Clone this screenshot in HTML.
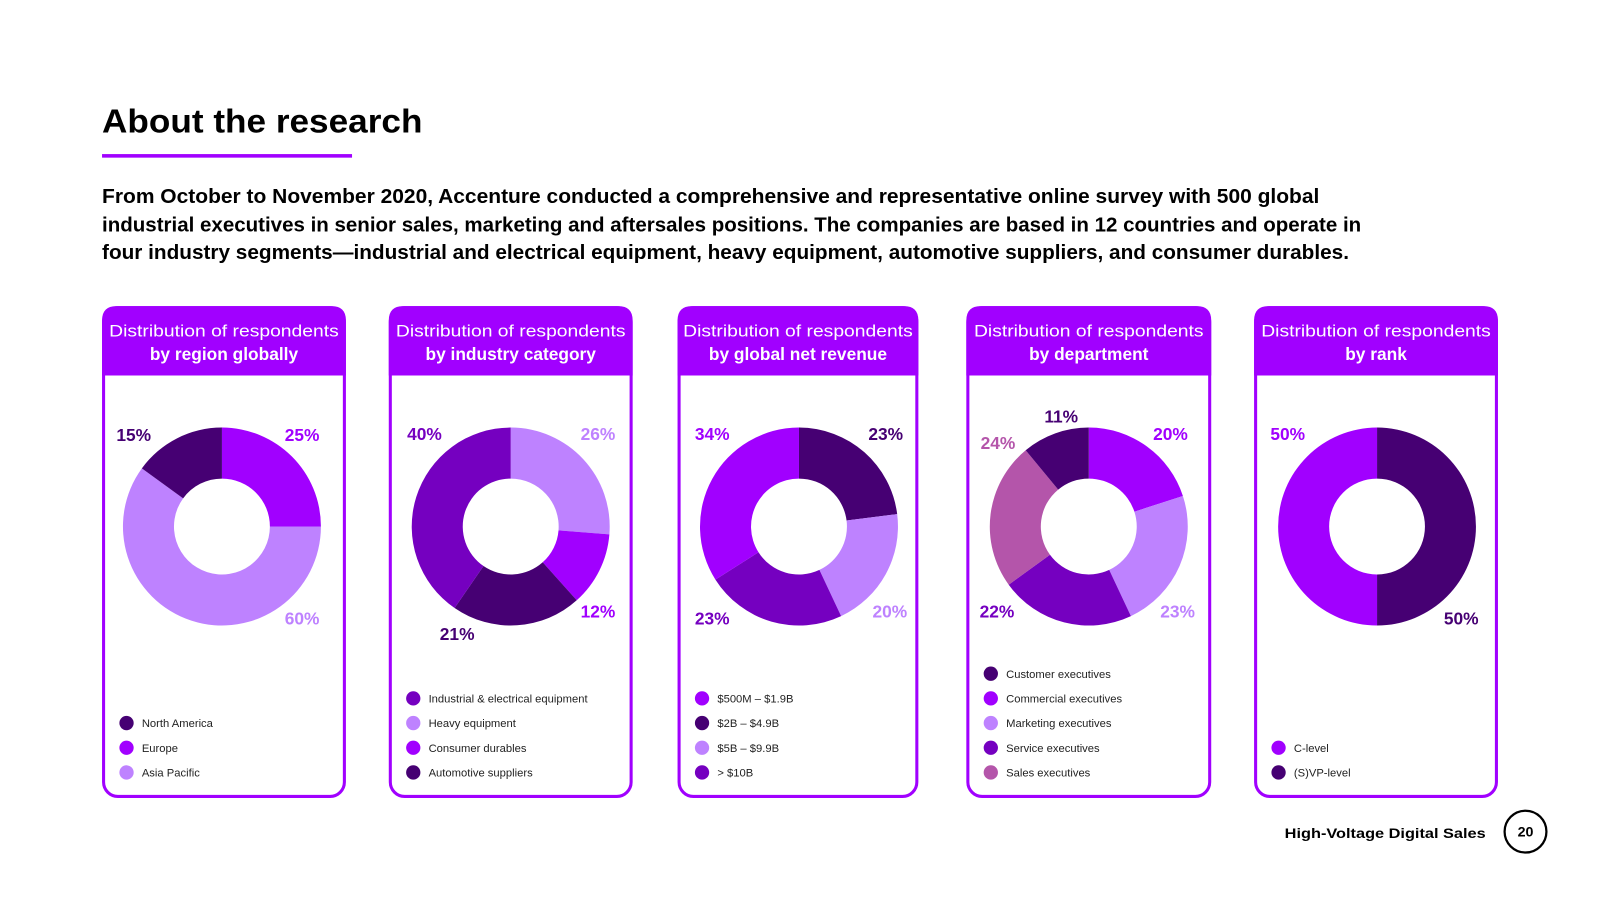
<!DOCTYPE html>
<html><head><meta charset="utf-8"><style>
html,body{margin:0;padding:0;background:#fff;}
svg{display:block;font-family:"Liberation Sans",sans-serif;}
</style></head><body>
<svg id="s" width="1600" height="900" viewBox="0 0 1568 882">
<text x="100" y="130" font-size="33" font-weight="bold" fill="#000" textLength="314" lengthAdjust="spacingAndGlyphs">About the research</text>
<rect x="100" y="151" width="245" height="3.5" fill="#a100ff"/>
<g font-size="20" font-weight="bold" fill="#000">
<text x="100" y="199" textLength="1193" lengthAdjust="spacingAndGlyphs">From October to November 2020, Accenture conducted a comprehensive and representative online survey with 500 global</text>
<text x="100" y="227" textLength="1234" lengthAdjust="spacingAndGlyphs">industrial executives in senior sales, marketing and aftersales positions. The companies are based in 12 countries and operate in</text>
<text x="100" y="254" textLength="1222" lengthAdjust="spacingAndGlyphs">four industry segments—industrial and electrical equipment, heavy equipment, automotive suppliers, and consumer durables.</text>
</g>
<g id="cards"></g>
<text x="1456" y="821" text-anchor="end" font-size="14" font-weight="bold" fill="#000" textLength="197" lengthAdjust="spacingAndGlyphs">High-Voltage Digital Sales</text>
<circle cx="1495" cy="815" r="20.5" fill="none" stroke="#000" stroke-width="2.2"/>
<text x="1495" y="820" text-anchor="middle" font-size="14" font-weight="bold">20</text>
</svg>
<script>
const DARK="#460073",BRIGHT="#a100ff",LIGHT="#be82ff",MID="#7500c0",MAUVE="#b455aa";
// Chart 1: region
const regionCats=["Europe","Asia Pacific","North America"];
const regionVals=[25,60,15];
const regionLegend=["North America","Europe","Asia Pacific"];
// Chart 2: industry
const industryCats=["Heavy equipment","Consumer durables","Automotive suppliers","Industrial & electrical equipment"];
const industryVals=[26,12,21,40];
const industryLegend=["Industrial & electrical equipment","Heavy equipment","Consumer durables","Automotive suppliers"];
// Chart 3: revenue
const revenueCats=["$2B – $4.9B","$5B – $9.9B","> $10B","$500M – $1.9B"];
const revenueVals=[23,20,23,34];
const revenueLegend=["$500M – $1.9B","$2B – $4.9B","$5B – $9.9B","> $10B"];
// Chart 4: department
const deptCats=["Commercial executives","Marketing executives","Service executives","Sales executives","Customer executives"];
const deptVals=[20,23,22,24,11];
const deptLegend=["Customer executives","Commercial executives","Marketing executives","Service executives","Sales executives"];
// Chart 5: rank
const rankCats=["(S)VP-level","C-level"];
const rankVals=[50,50];
const rankLegend=["C-level","(S)VP-level"];

const colorOf={"Europe":BRIGHT,"Asia Pacific":LIGHT,"North America":DARK,
"Heavy equipment":LIGHT,"Consumer durables":BRIGHT,"Automotive suppliers":DARK,"Industrial & electrical equipment":MID,
"$2B – $4.9B":DARK,"$5B – $9.9B":LIGHT,"> $10B":MID,"$500M – $1.9B":BRIGHT,
"Commercial executives":BRIGHT,"Marketing executives":LIGHT,"Service executives":MID,"Sales executives":MAUVE,"Customer executives":DARK,
"(S)VP-level":DARK,"C-level":BRIGHT};

const charts=[
 {id:"region",x:100,w:239,dx:-2,sub:"by region globally",cats:regionCats,vals:regionVals,legend:regionLegend,lab:[[296,426],[296,606],[131,426]]},
 {id:"industry",x:381,w:239,dx:0,sub:"by industry category",cats:industryCats,vals:industryVals,legend:industryLegend,lab:[[586,425],[586,599],[448,621],[416,425]]},
 {id:"revenue",x:664,w:236,dx:1,sub:"by global net revenue",cats:revenueCats,vals:revenueVals,legend:revenueLegend,lab:[[868,425],[872,599],[698,606],[698,425]]},
 {id:"department",x:947,w:240,dx:0,sub:"by department",cats:deptCats,vals:deptVals,legend:deptLegend,lab:[[1147,425],[1154,599],[977,599],[978,434],[1040,408]]},
 {id:"rank",x:1229,w:239,dx:1,sub:"by rank",cats:rankCats,vals:rankVals,legend:rankLegend,lab:[[1432,606],[1262,425]]}
];
const NS="http://www.w3.org/2000/svg";
const root=document.getElementById("cards");
function mk(tag,attrs,parent){const e=document.createElementNS(NS,tag);for(const k in attrs)e.setAttribute(k,attrs[k]);parent.appendChild(e);return e;}
const CY=516,RO=97,RI=47,TOP=300,BOT=782,HEAD=368;
function pt(cx,cy,r,a){return [cx+r*Math.sin(a),cy-r*Math.cos(a)];}
charts.forEach(c=>{
 const g=mk("g",{},root);
 
 
 const x=c.x,w=c.w;
 const card=mk("rect",{x:x+1.5,y:TOP+1.5,width:w-3,height:BOT-TOP-3,rx:14,fill:"#fff",stroke:BRIGHT,"stroke-width":3},g);
 
 
 const hd=mk("path",{d:`M${x},${HEAD} V${TOP+14} Q${x},${TOP} ${x+14},${TOP} H${x+w-14} Q${x+w},${TOP} ${x+w},${TOP+14} V${HEAD} Z`,fill:BRIGHT},g);
 
 
 const t1=mk("text",{x:x+w/2,y:330,"text-anchor":"middle","font-size":16.5,fill:"#fff",textLength:225,lengthAdjust:"spacingAndGlyphs"},g);
 t1.textContent="Distribution of respondents";
 
 
 const t2=mk("text",{x:x+w/2,y:353,"text-anchor":"middle","font-size":17,"font-weight":"bold",fill:"#fff"},g);
 t2.textContent=c.sub;
 
 
 const cx=x+w/2+c.dx;
 const total=c.vals.reduce((a,b)=>a+b,0);
 let acc=0;
 c.cats.forEach((cat,i)=>{
  const a0=acc/total*2*Math.PI; acc+=c.vals[i]; const a1=acc/total*2*Math.PI;
  const large=(a1-a0)>Math.PI?1:0;
  const p0=pt(cx,CY,RO,a0),p1=pt(cx,CY,RO,a1),q1=pt(cx,CY,RI,a1),q0=pt(cx,CY,RI,a0);
  const s=mk("path",{d:`M${p0[0]},${p0[1]} A${RO},${RO} 0 ${large} 1 ${p1[0]},${p1[1]} L${q1[0]},${q1[1]} A${RI},${RI} 0 ${large} 0 ${q0[0]},${q0[1]} Z`,fill:colorOf[cat]},g);
  
  
  const lp=c.lab[i];
  const lt=mk("text",{x:lp[0],y:lp[1]+6,"text-anchor":"middle","font-size":17,"font-weight":"bold",fill:colorOf[cat]},g);
  lt.textContent=c.vals[i]+"%";
  
  
 });
 const n=c.legend.length;
 c.legend.forEach((cat,i)=>{
  const y=757-(n-1-i)*24.2;
  const d=mk("circle",{cx:x+24,cy:y,r:7,fill:colorOf[cat]},g);
  
  
  const lt=mk("text",{x:x+39,y:y+4,"font-size":11,fill:"#222"},g);
  lt.textContent=cat;
  
  
 });
});
</script>
</body></html>
